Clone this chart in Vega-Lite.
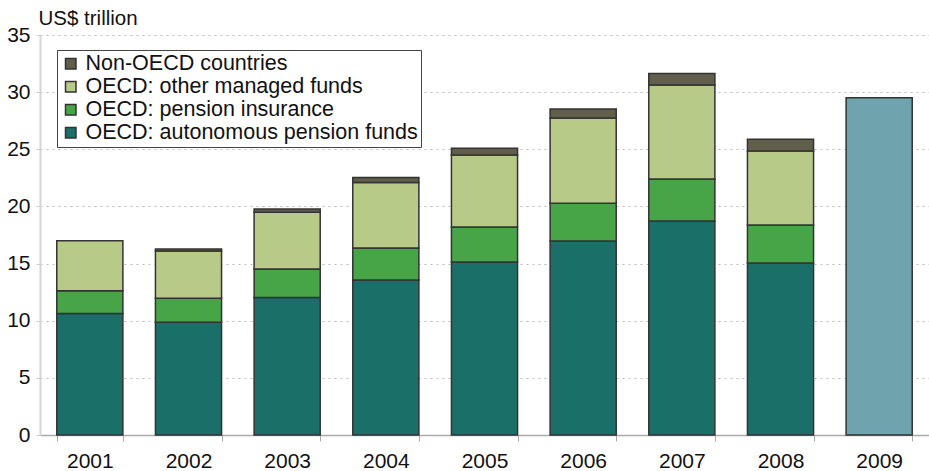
{
  "$schema": "https://vega.github.io/schema/vega-lite/v6.json",
  "width": 889,
  "height": 400,
  "autosize": {"type": "none"},
  "padding": {"left": 40, "top": 35, "right": 0, "bottom": 36},
  "config": {
    "font": "Liberation Sans",
    "view": {"stroke": null}
  },
  "data": {
    "values": [
      {"year": "2001", "series": "OECD: autonomous pension funds", "k": 1, "value": 10.64},
      {"year": "2001", "series": "OECD: pension insurance", "k": 2, "value": 1.99},
      {"year": "2001", "series": "OECD: other managed funds", "k": 3, "value": 4.37},
      {"year": "2002", "series": "OECD: autonomous pension funds", "k": 1, "value": 9.86},
      {"year": "2002", "series": "OECD: pension insurance", "k": 2, "value": 2.10},
      {"year": "2002", "series": "OECD: other managed funds", "k": 3, "value": 4.14},
      {"year": "2002", "series": "Non-OECD countries", "k": 4, "value": 0.17},
      {"year": "2003", "series": "OECD: autonomous pension funds", "k": 1, "value": 12.04},
      {"year": "2003", "series": "OECD: pension insurance", "k": 2, "value": 2.48},
      {"year": "2003", "series": "OECD: other managed funds", "k": 3, "value": 4.98},
      {"year": "2003", "series": "Non-OECD countries", "k": 4, "value": 0.27},
      {"year": "2004", "series": "OECD: autonomous pension funds", "k": 1, "value": 13.56},
      {"year": "2004", "series": "OECD: pension insurance", "k": 2, "value": 2.80},
      {"year": "2004", "series": "OECD: other managed funds", "k": 3, "value": 5.74},
      {"year": "2004", "series": "Non-OECD countries", "k": 4, "value": 0.44},
      {"year": "2005", "series": "OECD: autonomous pension funds", "k": 1, "value": 15.14},
      {"year": "2005", "series": "OECD: pension insurance", "k": 2, "value": 3.06},
      {"year": "2005", "series": "OECD: other managed funds", "k": 3, "value": 6.30},
      {"year": "2005", "series": "Non-OECD countries", "k": 4, "value": 0.60},
      {"year": "2006", "series": "OECD: autonomous pension funds", "k": 1, "value": 16.97},
      {"year": "2006", "series": "OECD: pension insurance", "k": 2, "value": 3.30},
      {"year": "2006", "series": "OECD: other managed funds", "k": 3, "value": 7.46},
      {"year": "2006", "series": "Non-OECD countries", "k": 4, "value": 0.79},
      {"year": "2007", "series": "OECD: autonomous pension funds", "k": 1, "value": 18.72},
      {"year": "2007", "series": "OECD: pension insurance", "k": 2, "value": 3.68},
      {"year": "2007", "series": "OECD: other managed funds", "k": 3, "value": 8.22},
      {"year": "2007", "series": "Non-OECD countries", "k": 4, "value": 1.02},
      {"year": "2008", "series": "OECD: autonomous pension funds", "k": 1, "value": 15.05},
      {"year": "2008", "series": "OECD: pension insurance", "k": 2, "value": 3.32},
      {"year": "2008", "series": "OECD: other managed funds", "k": 3, "value": 6.48},
      {"year": "2008", "series": "Non-OECD countries", "k": 4, "value": 1.02},
      {"year": "2009", "series": "Total", "k": 1, "value": 29.5}
    ]
  },
  "mark": {"type": "bar", "stroke": "#333333", "strokeWidth": 1.5},
  "encoding": {
    "x": {
      "field": "year",
      "type": "nominal",
      "title": null,
      "scale": {"paddingInner": 0.33, "paddingOuter": 0.17},
      "axis": {
        "labelAngle": 0,
        "labelFontSize": 21,
        "labelColor": "#111111",
        "labelPadding": 9,
        "tickBand": "extent",
        "tickSize": 6,
        "tickColor": "#aaaaaa",
        "domainColor": "#aaaaaa",
        "domainWidth": 1.5,
        "grid": false
      }
    },
    "y": {
      "field": "value",
      "type": "quantitative",
      "aggregate": "sum",
      "stack": "zero",
      "scale": {"domain": [0, 35], "nice": false},
      "axis": {
        "values": [0, 5, 10, 15, 20, 25, 30, 35],
        "title": "US$ trillion",
        "titleAngle": 0,
        "titleAlign": "left",
        "titleBaseline": "alphabetic",
        "titleX": -2,
        "titleY": -11,
        "titleFontSize": 20.5,
        "titleFontWeight": "normal",
        "titleColor": "#111111",
        "labelFontSize": 21,
        "labelColor": "#111111",
        "labelPadding": 6,
        "tickSize": 4,
        "tickColor": "#cccccc",
        "domainColor": "#d5d5d5",
        "domainWidth": 2,
        "grid": true,
        "gridColor": "#bbbbbb",
        "gridDash": [2, 4],
        "gridWidth": 1
      }
    },
    "color": {
      "field": "series",
      "type": "nominal",
      "scale": {
        "domain": ["Non-OECD countries", "OECD: other managed funds", "OECD: pension insurance", "OECD: autonomous pension funds", "Total"],
        "range": ["#615e4b", "#b8ca87", "#47a548", "#1a6f68", "#6fa3ad"]
      },
      "legend": {
        "title": null,
        "values": ["Non-OECD countries", "OECD: other managed funds", "OECD: pension insurance", "OECD: autonomous pension funds"],
        "orient": "none",
        "legendX": 17,
        "legendY": 15,
        "labelFontSize": 21.5,
        "labelColor": "#111111",
        "labelLimit": 500,
        "labelOffset": 4,
        "symbolType": "square",
        "symbolSize": 110,
        "symbolStrokeColor": "#333333",
        "symbolStrokeWidth": 1.5,
        "rowPadding": 0,
        "padding": 3,
        "strokeColor": "#444444",
        "fillColor": "white"
      }
    },
    "order": {"field": "k", "type": "quantitative", "sort": "ascending"}
  }
}
